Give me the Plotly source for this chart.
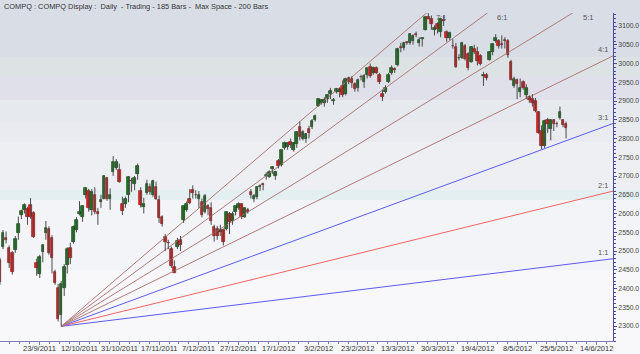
import plotly.graph_objects as go
import pandas as pd

# ---------------- data ----------------
title_text = "COMPQ : COMPQ Display :  Daily  - Trading - 185 Bars -  Max Space - 200 Bars"
holidays = ["2011-11-24", "2011-12-26", "2012-01-02", "2012-01-16",
            "2012-02-20", "2012-04-06", "2012-05-28"]
# trading-day slots (bars plus empty future space)
dates = pd.bdate_range("2011-09-06", periods=201, freq="C", holidays=holidays)
date_labels = [f"{d.day}/{d.month}/{d.year}" for d in dates]

tick_labels = ["23/9/2011", "12/10/2011", "31/10/2011", "17/11/2011", "7/12/2011",
               "27/12/2011", "17/1/2012", "3/2/2012", "23/2/2012", "13/3/2012",
               "30/3/2012", "19/4/2012", "8/5/2012", "25/5/2012", "14/6/2012"]

open_ = [2476, 2511, 2536, 2508, 2495, 2503, 2548, 2596, 2609, 2612,
         2623, 2601, 2468, 2440, 2498, 2548, 2558, 2535, 2444, 2401,
         2330, 2401, 2463, 2508, 2524, 2556, 2600, 2590, 2650, 2660,
         2610, 2650, 2604, 2630, 2640, 2694, 2640, 2712, 2722, 2715,
         2625, 2625, 2650, 2688, 2680, 2705, 2660, 2618, 2655, 2672,
         2650, 2670, 2636, 2590, 2537, 2522, 2505, 2458, 2510, 2530,
         2583, 2610, 2640, 2663, 2650, 2640, 2630, 2605, 2620, 2615,
         2565, 2560, 2550, 2556, 2560, 2600, 2580, 2605, 2615, 2625,
         2592, 2610, 2657, 2640, 2643, 2672, 2680, 2700, 2697, 2718,
         2700, 2740, 2730, 2775, 2778, 2790, 2770, 2785, 2830, 2800,
         2800, 2825, 2830, 2850, 2888, 2895, 2896, 2905, 2920, 2900,
         2925, 2925, 2940, 2920, 2962, 2960, 2945, 2935, 2965, 2950,
         2970, 2992, 2975, 2988, 2970, 2920, 2925, 2950, 2975, 2985,
         2995, 3045, 3042, 3058, 3055, 3060, 3078, 3055, 3065, 3090,
         3125, 3120, 3090, 3106, 3085, 3115, 3083, 3068, 3048, 3045,
         3015, 3015, 3048, 3025, 3005, 3040, 3030, 3020, 2968, 2970,
         3010, 3030, 3060, 3060, 3053, 3062, 3060, 3005, 2940, 2955,
         2925, 2950, 2915, 2910, 2905, 2900, 2870, 2820, 2780, 2850,
         2825, 2850, 2840, 2855, 2850, 2840]
high = [2482, 2556, 2552, 2515, 2500, 2540, 2592, 2610, 2627, 2618,
        2641, 2606, 2480, 2490, 2517, 2580, 2566, 2542, 2450, 2412,
        2420, 2465, 2510, 2522, 2568, 2590, 2633, 2622, 2670, 2666,
        2665, 2670, 2615, 2650, 2702, 2697, 2667, 2753, 2745, 2733,
        2645, 2645, 2700, 2695, 2700, 2733, 2670, 2642, 2690, 2680,
        2690, 2685, 2648, 2595, 2545, 2530, 2512, 2475, 2535, 2540,
        2620, 2632, 2665, 2675, 2662, 2660, 2640, 2652, 2625, 2630,
        2570, 2567, 2570, 2560, 2605, 2604, 2605, 2619, 2630, 2627,
        2615, 2615, 2665, 2652, 2672, 2678, 2682, 2710, 2715, 2726,
        2714, 2745, 2770, 2792, 2790, 2800, 2790, 2820, 2845, 2822,
        2815, 2834, 2852, 2864, 2907, 2905, 2910, 2918, 2935, 2908,
        2935, 2935, 2955, 2962, 2965, 2966, 2950, 2960, 2970, 2972,
        2988, 3000, 2992, 2992, 2975, 2930, 2942, 2975, 2995, 2990,
        3042, 3055, 3058, 3060, 3080, 3078, 3085, 3070, 3070, 3123,
        3134, 3128, 3102, 3110, 3122, 3128, 3088, 3085, 3065, 3055,
        3025, 3058, 3052, 3030, 3046, 3050, 3045, 3025, 2978, 2975,
        3033, 3053, 3078, 3065, 3075, 3070, 3065, 3010, 2965, 2960,
        2960, 2955, 2945, 2915, 2918, 2908, 2873, 2835, 2850, 2855,
        2852, 2852, 2845, 2885, 2852, 2845]
low = [2410, 2505, 2520, 2455, 2437, 2495, 2530, 2585, 2600, 2570,
       2586, 2535, 2434, 2428, 2470, 2530, 2490, 2440, 2410, 2312,
       2299, 2380, 2440, 2465, 2520, 2550, 2595, 2578, 2640, 2605,
       2595, 2598, 2570, 2615, 2638, 2634, 2610, 2700, 2716, 2682,
       2596, 2615, 2630, 2658, 2662, 2690, 2616, 2600, 2650, 2650,
       2645, 2636, 2575, 2565, 2500, 2505, 2455, 2441, 2505, 2500,
       2575, 2605, 2625, 2640, 2640, 2615, 2590, 2600, 2595, 2570,
       2525, 2530, 2540, 2515, 2555, 2545, 2570, 2595, 2610, 2585,
       2588, 2600, 2640, 2630, 2638, 2660, 2662, 2690, 2695, 2705,
       2690, 2720, 2725, 2770, 2770, 2775, 2765, 2775, 2795, 2795,
       2788, 2800, 2825, 2845, 2885, 2890, 2885, 2895, 2905, 2890,
       2920, 2910, 2910, 2915, 2945, 2935, 2925, 2925, 2955, 2935,
       2960, 2962, 2970, 2972, 2945, 2900, 2920, 2948, 2970, 2975,
       2992, 3030, 3035, 3050, 3050, 3050, 3070, 3045, 3045, 3088,
       3118, 3090, 3075, 3080, 3070, 3100, 3058, 3062, 3040, 2988,
       3008, 3012, 3008, 2982, 3002, 3025, 2995, 2995, 2940, 2955,
       3008, 3022, 3055, 3040, 3040, 3040, 3015, 2955, 2935, 2905,
       2910, 2930, 2905, 2895, 2885, 2870, 2813, 2771, 2775, 2815,
       2795, 2820, 2830, 2850, 2830, 2800]
close = [2418, 2549, 2529, 2468, 2445, 2532, 2572, 2607, 2622, 2590,
         2591, 2538, 2455, 2483, 2516, 2561, 2494, 2481, 2416, 2320,
         2412, 2457, 2506, 2481, 2565, 2583, 2604, 2620, 2667, 2615,
         2657, 2604, 2598, 2637, 2699, 2638, 2650, 2738, 2737, 2684,
         2607, 2640, 2698, 2686, 2695, 2727, 2622, 2625, 2679, 2657,
         2686, 2640, 2588, 2572, 2523, 2521, 2460, 2442, 2527, 2516,
         2620, 2626, 2627, 2656, 2649, 2650, 2596, 2647, 2612, 2579,
         2539, 2541, 2555, 2523, 2604, 2578, 2599, 2619, 2625, 2590,
         2614, 2605, 2649, 2648, 2670, 2674, 2677, 2703, 2711, 2725,
         2711, 2728, 2770, 2788, 2787, 2784, 2787, 2818, 2805, 2817,
         2812, 2814, 2848, 2860, 2906, 2902, 2904, 2916, 2927, 2904,
         2931, 2932, 2916, 2960, 2952, 2949, 2933, 2957, 2964, 2966,
         2987, 2967, 2989, 2976, 2950, 2910, 2936, 2970, 2988, 2984,
         3040, 3041, 3056, 3055, 3078, 3074, 3075, 3063, 3068, 3123,
         3120, 3105, 3095, 3092, 3120, 3114, 3068, 3081, 3047, 2991,
         3016, 3056, 3011, 2988, 3043, 3031, 3008, 3000, 2970, 2962,
         3030, 3051, 3069, 3046, 3050, 3060, 3024, 2956, 2958, 2946,
         2935, 2934, 2934, 2903, 2894, 2874, 2814, 2779, 2847, 2839,
         2850, 2839, 2838, 2871, 2837, 2827]

fan_origin_date = "4/10/2011"
fan_ratios = [1, 2, 3, 4, 5, 6, 7]
fan_unit = 1.0   # points per bar for 1:1
fan_colors = {1: "#5b5bf0", 2: "#f26464", 3: "#5b5bf0",
              4: "#b07a7a", 5: "#b07a7a", 6: "#b07a7a", 7: "#b07a7a"}

# ---------------- layout geometry ----------------
W, H = 640, 354
ML, MR, MT, MB = 0, 27, 13, 13
X_RANGE = [0.01, 200.34]
Y_RANGE = [2260, 3134.67]
PH = H - MT - MB
FONT = "Liberation Sans"

idx = list(range(len(close)))
ox = date_labels.index(fan_origin_date)
oy = low[ox]

fig = go.Figure()

# background bands (pixel rows -> paper coords)
bands = [(0, 57, "#d9dde6"), (57, 76, "#dde3e4"), (76, 100, "#dfe0ea"),
         (100, 122, "#e6e9ee"), (122, 142, "#e9ebf0"), (142, 190, "#edeff3"),
         (190, 200, "#e4eff2"), (200, 270, "#f3f4f7"), (270, 354, "#f8f8fa")]
for y0, y1, c in bands:
    fig.add_shape(type="rect", xref="paper", yref="paper",
                  x0=-0.01, x1=W / (W - MR) + 0.01,
                  y0=(H - MB - y1) / PH, y1=(H - MB - y0) / PH,
                  fillcolor=c, line_width=0, layer="below")

# fan lines
for k in fan_ratios:
    x_end = X_RANGE[1]
    y_end = oy + k * fan_unit * (x_end - ox)
    fig.add_trace(go.Scatter(x=[ox, x_end], y=[oy, y_end], mode="lines",
                             line=dict(color=fan_colors[k], width=1),
                             hoverinfo="skip", showlegend=False))
    if y_end <= Y_RANGE[1]:
        fig.add_annotation(x=x_end, y=y_end, text=f"{k}:1", showarrow=False,
                           xanchor="right", yanchor="middle", xshift=-3, yshift=6,
                           font=dict(size=7.5, color="#555555", family=FONT))
    else:
        xt = ox + (Y_RANGE[1] - oy) / (k * fan_unit)
        fig.add_annotation(x=xt, y=Y_RANGE[1], text=f"{k}:1", showarrow=False,
                           xanchor="left", yanchor="middle", xshift=8, yshift=-4,
                           font=dict(size=7.5, color="#555555", family=FONT))

# wicks
wx, wy = [], []
for i in idx:
    wx += [i, i, None]
    wy += [low[i], high[i], None]
fig.add_trace(go.Scatter(x=wx, y=wy, mode="lines", line=dict(color="#4a4a4a", width=1),
                         hoverinfo="skip", showlegend=False))

# bodies
up = [i for i in idx if close[i] >= open_[i]]
dn = [i for i in idx if close[i] < open_[i]]
fig.add_trace(go.Bar(x=up, y=[close[i] - open_[i] for i in up], base=[open_[i] for i in up],
                     width=0.85, marker=dict(color="#17801a", line=dict(color="#0e3f0e", width=0.7)),
                     showlegend=False))
fig.add_trace(go.Bar(x=dn, y=[open_[i] - close[i] for i in dn], base=[close[i] for i in dn],
                     width=0.85, marker=dict(color="#f41c1c", line=dict(color="#8a1414", width=0.7)),
                     showlegend=False))

# title
fig.add_annotation(xref="paper", yref="paper", x=0.003, y=1 + 7 / PH, text=title_text,
                   showarrow=False, xanchor="left", yanchor="middle",
                   font=dict(size=7.4, color="#333333", family=FONT))

# x tick labels placed just under the axis line
tickvals = [date_labels.index(t) for t in tick_labels]
for tv, tt in zip(tickvals, tick_labels):
    fig.add_annotation(x=tv, y=0, xref="x", yref="paper", text=tt, showarrow=False,
                       xanchor="center", yanchor="middle", yshift=-7,
                       font=dict(size=7.5, color="#333333", family=FONT))

fig.update_layout(
    width=W, height=H, margin=dict(l=ML, r=MR, t=MT, b=MB, autoexpand=False),
    paper_bgcolor="#f8f8fa", plot_bgcolor="rgba(0,0,0,0)",
    barmode="overlay", bargap=0, showlegend=False,
    font=dict(family=FONT, size=7.5, color="#333333"),
    xaxis=dict(range=X_RANGE, tickmode="array", tickvals=tickvals, showticklabels=False,
               showgrid=False, zeroline=False, showline=True, linecolor="#7b7bbd", linewidth=1,
               ticks="outside", ticklen=3, tickcolor="#7b7bbd", automargin=False,
               minor=dict(tickmode="linear", tick0=13, dtick=3.25, ticks="outside",
                          ticklen=2, tickcolor="#7b7bbd")),
    yaxis=dict(range=Y_RANGE, side="right", tick0=2300, dtick=50, tickformat=".1f",
               showgrid=False, zeroline=False, showline=True, linecolor="#4b4b9e", linewidth=1,
               ticks="outside", ticklen=3, tickcolor="#4b4b9e", automargin=False,
               tickfont=dict(size=6.8, color="#444444"),
               minor=dict(dtick=10, ticks="outside", ticklen=2, tickcolor="#4b4b9e")),
)

fig.write_html("out.html")
